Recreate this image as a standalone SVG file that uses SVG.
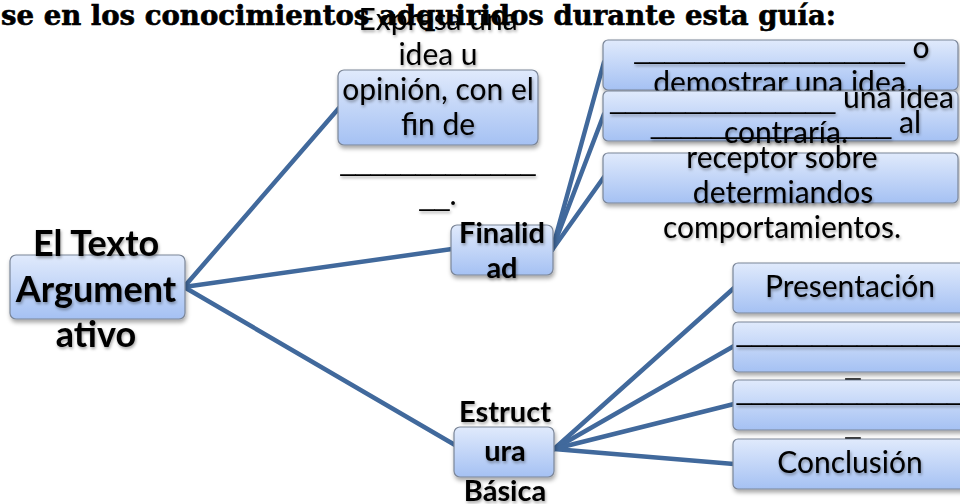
<svg xmlns="http://www.w3.org/2000/svg" width="960" height="504" viewBox="0 0 960 504">
<defs>
<linearGradient id="bg" x1="0" y1="0" x2="0" y2="1">
<stop offset="0" stop-color="#e0eafc"/>
<stop offset="1" stop-color="#a5c1f3"/>
</linearGradient>
<filter id="sh" x="-10%" y="-20%" width="120%" height="150%">
<feDropShadow dx="1" dy="3" stdDeviation="2" flood-color="#000" flood-opacity="0.35"/>
</filter>
<filter id="tsh" x="-10%" y="-30%" width="120%" height="160%">
<feDropShadow dx="1" dy="2" stdDeviation="1.8" flood-color="#000" flood-opacity="0.35"/>
</filter>
</defs>
<style>
.box{fill:url(#bg);stroke:#7b8698;stroke-width:1.2;filter:url(#sh)}
.t{font-family:Lato,"Liberation Sans",sans-serif;font-size:30px;fill:#000;text-anchor:middle;filter:url(#tsh)}
.u{font-family:"Liberation Sans",Arial,sans-serif;font-size:27px}
.b{font-family:Lato,"Liberation Sans",sans-serif;font-weight:bold;fill:#000;text-anchor:middle;filter:url(#tsh)}
.c{stroke:#41699c;stroke-width:4.5;fill:none;stroke-linecap:round}
.title{font-family:"DejaVu Serif","Liberation Serif",serif;font-weight:bold;font-size:27px;fill:#000;stroke:#000;stroke-width:0.6}
</style>
<rect width="960" height="504" fill="#fff"/>
<text class="title" x="1" y="25" textLength="835" lengthAdjust="spacingAndGlyphs">se en los conocimientos adquiridos durante esta guía:</text>

<g id="connectors">
<line class="c" x1="184" y1="287" x2="339" y2="108"/>
<line class="c" x1="184" y1="287" x2="452" y2="249"/>
<line class="c" x1="184" y1="287" x2="455" y2="445"/>
<line class="c" x1="552" y1="250" x2="604" y2="62"/>
<line class="c" x1="552" y1="250" x2="604" y2="114"/>
<line class="c" x1="552" y1="250" x2="604" y2="177"/>
<line class="c" x1="554" y1="449" x2="734" y2="288"/>
<line class="c" x1="554" y1="449" x2="734" y2="346"/>
<line class="c" x1="554" y1="449" x2="734" y2="404"/>
<line class="c" x1="554" y1="449" x2="734" y2="464"/>
</g>

<g id="root">
<rect class="box" x="10" y="255" width="175" height="64" rx="6"/>
<text class="b" font-size="36" x="96" y="256">El Texto</text>
<text class="b" font-size="36" x="96" y="302">Argument</text>
<text class="b" font-size="36" x="96" y="347">ativo</text>
</g>

<g id="node-expresa">
<rect class="box" x="338" y="70" width="200" height="75" rx="6"/>
<text class="t" x="438" y="30">Expresa una</text>
<text class="t" x="438" y="65">idea u</text>
<text class="t" x="438" y="100">opinión, con el</text>
<text class="t" x="438" y="135">fin de</text>
<text class="t" x="438" y="170"><tspan class="u">_____________</tspan></text>
<text class="t" x="438" y="205"><tspan class="u">__</tspan>.</text>
</g>

<g id="node-finalidad">
<rect class="box" x="451" y="225" width="102" height="50" rx="6"/>
<text class="b" font-size="29" x="502" y="243">Finalid</text>
<text class="b" font-size="29" x="502" y="278">ad</text>
</g>

<g id="node-estructura">
<rect class="box" x="454" y="427" width="100" height="50" rx="6"/>
<text class="b" font-size="29" x="505" y="422">Estruct</text>
<text class="b" font-size="29" x="505" y="461">ura</text>
<text class="b" font-size="29" x="505" y="501">Básica</text>
</g>

<g id="node-fin-1">
<rect class="box" x="603" y="40" width="355" height="50" rx="5"/>
<text class="t" x="782" y="58"><tspan class="u">__________________</tspan> o</text>
<text class="t" x="783" y="93">demostrar una idea.</text>
</g>

<g id="node-fin-2">
<rect class="box" x="603" y="91" width="355" height="50" rx="5"/>
<text class="t" x="782" y="108"><tspan class="u">_______________</tspan> una idea</text>
<text class="t" x="786" y="143">contraría.</text>
</g>

<g id="node-fin-3">
<rect class="box" x="603" y="153" width="355" height="50" rx="5"/>
<text class="t" x="786" y="133"><tspan class="u">________________</tspan> al</text>
<text class="t" x="782" y="168">receptor sobre</text>
<text class="t" x="783" y="203">determiandos</text>
<text class="t" x="782" y="238">comportamientos.</text>
</g>

<g id="node-presentacion">
<rect class="box" x="733" y="263" width="240" height="50" rx="5"/>
<text class="t" x="850" y="297">Presentación</text>
</g>

<g id="node-est-2">
<rect class="box" x="733" y="322" width="240" height="50" rx="5"/>
<text class="t" x="857" y="341"><tspan class="u">________________</tspan></text>
<text class="t" x="853" y="374"><tspan class="u">_</tspan></text>
</g>

<g id="node-est-3">
<rect class="box" x="733" y="380" width="240" height="50" rx="5"/>
<text class="t" x="857" y="399"><tspan class="u">________________</tspan></text>
<text class="t" x="853" y="433"><tspan class="u">_</tspan></text>
</g>

<g id="node-conclusion">
<rect class="box" x="733" y="439" width="240" height="50" rx="5"/>
<text class="t" x="850" y="473">Conclusión</text>
</g>
</svg>
